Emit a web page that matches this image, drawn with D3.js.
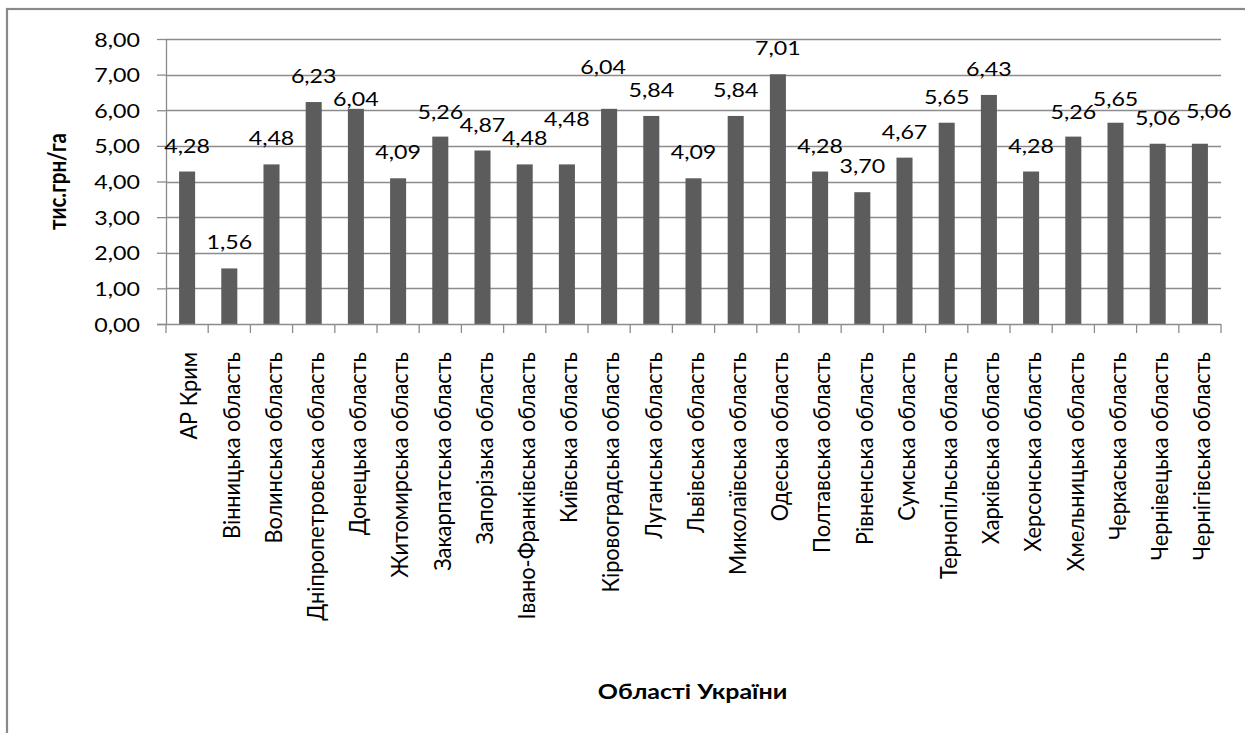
<!DOCTYPE html>
<html>
<head>
<meta charset="utf-8">
<script src="https://cdn.jsdelivr.net/npm/d3@7"></script>
<style>
  html, body { margin: 0; padding: 0; background: #fff; }
  svg { display: block; }
  text { font-family: Lato, "Open Sans", sans-serif; fill: #000; }
</style>
</head>
<body>
<svg id="chart" width="1245" height="733"></svg>
<script>
// Regions of Ukraine
const categories = [
  "АР Крим", "Вінницька область", "Волинська область", "Дніпропетровська область",
  "Донецька область", "Житомирська область", "Закарпатська область", "Запорізька область",
  "Івано-Франківська область", "Київська область", "Кіровоградська область", "Луганська область",
  "Львівська область", "Миколаївська область", "Одеська область", "Полтавська область",
  "Рівненська область", "Сумська область", "Тернопільська область", "Харківська область",
  "Херсонська область", "Хмельницька область", "Черкаська область", "Чернівецька область",
  "Чернігівська область"
];

// thousand UAH per hectare
const values = [
  4.28, 1.56, 4.48, 6.23, 6.04, 4.09, 5.26, 4.87, 4.48, 4.48, 6.04, 5.84, 4.09,
  5.84, 7.01, 4.28, 3.70, 4.67, 5.65, 6.43, 4.28, 5.26, 5.65, 5.06, 5.06
];

const yTicks = [0, 1, 2, 3, 4, 5, 6, 7, 8];
const yTitle = "тис.грн/га";
const xTitle = "Області України";

// hand-placed data labels: [dx, dy] in px relative to the default spot
const labelNudge = [
  [0, 0], [0, 0], [0, 0], [0, 0], [0, 16], [0, 0], [0, 1], [0, 0], [0, 0], [0, -19],
  [-6, -16], [0, 0], [0, 0], [0, 0], [0, 0], [0, 0], [0, 0], [0, 0], [0, 0], [0, 0],
  [0, 0], [0, 1], [0, 2], [0, 0], [9, -7]
];

const fmt = v => v.toFixed(2).replace(".", ",");
const SX = 1.19;           // horizontal stretch of upright glyphs
const FS = 19.5;           // upright label font size
const SXR = 1.07;          // stretch of rotated category labels
const FSR = 21.7;          // rotated category label font size

const svg = d3.select("#chart");

// outer frame
svg.append("rect")
  .attr("x", 7).attr("y", 9).attr("width", 1300).attr("height", 800)
  .attr("fill", "none").attr("stroke", "#8a8a8a").attr("stroke-width", 2.2);

const plot = { left: 166, right: 1221, top: 39, bottom: 324 };

const xSlot = d3.scaleBand().domain(categories).range([plot.left, plot.right]).padding(0);
const xBar = d3.scaleBand().domain(categories).range([plot.left, plot.right])
  .paddingInner(0.62).paddingOuter(0.31);
const y = d3.scaleLinear().domain([0, 8]).range([plot.bottom, plot.top]);

const gridColor = "#8c8c8c";

// horizontal gridlines
svg.append("g").selectAll("line").data(yTicks.filter(t => t > 0)).join("line")
  .attr("x1", plot.left).attr("x2", plot.right)
  .attr("y1", d => Math.round(y(d)) + 0.5).attr("y2", d => Math.round(y(d)) + 0.5)
  .attr("stroke", gridColor).attr("stroke-width", 1.3);

// bars
svg.append("g").selectAll("rect").data(values).join("rect")
  .attr("x", (d, i) => xBar(categories[i]))
  .attr("width", xBar.bandwidth())
  .attr("y", d => y(d))
  .attr("height", d => y(0) - y(d))
  .attr("fill", "#5c5c5c");

// y axis
const yAxis = svg.append("g")
  .attr("transform", `translate(${plot.left},0)`)
  .call(d3.axisLeft(y).tickValues(yTicks).tickFormat(fmt).tickSize(9).tickSizeOuter(0));
yAxis.select(".domain").attr("stroke", gridColor).attr("stroke-width", 1.3);
yAxis.selectAll(".tick line").attr("stroke", gridColor).attr("stroke-width", 1.3);
yAxis.selectAll(".tick text")
  .attr("x", 0).attr("dy", "0.36em")
  .attr("transform", `translate(-26,0) scale(${SX},1)`)
  .attr("text-anchor", "end")
  .style("font-size", FS + "px").style("font-family", "Lato, 'Open Sans', sans-serif").attr("fill", "#000");

// x axis line and boundary ticks
const xAxisG = svg.append("g").attr("transform", `translate(0,${plot.bottom})`);
xAxisG.call(d3.axisBottom(xSlot).tickSize(0).tickSizeOuter(0));
xAxisG.select(".domain").remove();
xAxisG.append("line")
  .attr("x1", plot.left - 9).attr("x2", plot.right).attr("y1", 0.5).attr("y2", 0.5)
  .attr("stroke", gridColor).attr("stroke-width", 1.3);
const bounds = categories.map(c => xSlot(c)).concat([plot.right]);
xAxisG.selectAll("line.bound").data(bounds).join("line").attr("class", "bound")
  .attr("x1", d => d).attr("x2", d => d).attr("y1", 0).attr("y2", 9)
  .attr("stroke", gridColor).attr("stroke-width", 1.3);
xAxisG.selectAll(".tick text")
  .attr("x", 0).attr("y", 0).attr("dy", "0.36em")
  .attr("text-anchor", "end")
  .attr("transform", `translate(2,28) scale(${SXR},1) rotate(-90)`)
  .style("font-size", FSR + "px").style("font-family", "Lato, 'Open Sans', sans-serif").attr("fill", "#000");

// data labels
svg.append("g").selectAll("text").data(values).join("text")
  .attr("text-anchor", "middle")
  .attr("transform", (d, i) => {
    const cx = xBar(categories[i]) + xBar.bandwidth() / 2 + labelNudge[i][0];
    const by = y(d) - 19 + labelNudge[i][1];
    return `translate(${cx},${by}) scale(${SX},1)`;
  })
  .style("font-size", FS + "px")
  .text(d => fmt(d));

// axis titles
svg.append("text")
  .attr("text-anchor", "middle")
  .attr("transform", `translate(66,${(plot.top + plot.bottom) / 2}) scale(${SX},1) rotate(-90)`)
  .style("font-size", "20.5px").style("font-weight", "bold")
  .text(yTitle);

svg.append("text")
  .attr("text-anchor", "middle")
  .attr("transform", `translate(${(plot.left + plot.right) / 2 - 1},699) scale(${SX},1)`)
  .style("font-size", "21px").style("font-weight", "bold")
  .text(xTitle);
</script>
</body>
</html>
